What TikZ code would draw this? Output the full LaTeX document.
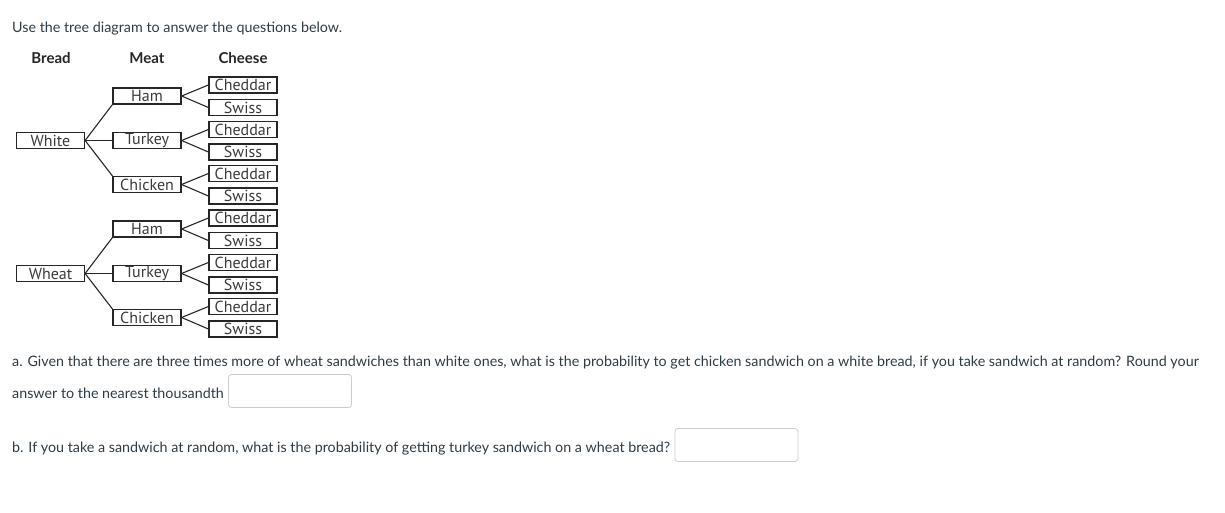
\documentclass[tikz,border=0pt]{standalone}
\usepackage{fontspec}
\setmainfont{Lato}
\newfontfamily\treefont{PT Sans}
\definecolor{txt}{HTML}{2D3B45}
\definecolor{boxtxt}{HTML}{3A3A3A}
\definecolor{inbord}{HTML}{C7CDD1}
\begin{document}
\begin{tikzpicture}[x=1pt,y=-1pt,
  qtext/.style={anchor=base west,inner sep=0pt,text=txt,font=\fontsize{14.3}{17}\selectfont},
  hdr/.style={inner sep=0pt,text=black!85,font=\fontsize{15}{17}\bfseries\selectfont},
  tbox/.style={draw=black!85,line width=1.2pt,minimum width=68pt,minimum height=16pt,inner sep=0pt,text=boxtxt,font=\treefont\fontsize{16}{17}\selectfont},
  cbox/.style={tbox},
  link/.style={draw=black!85,line width=1.1pt},
  ansbox/.style={draw=inbord,line width=0.8pt,rounded corners=3pt,minimum width=123pt,minimum height=33pt,inner sep=0pt}
]
\useasboundingbox (0,0) rectangle (1225,512);
\node[qtext] (intro) at (12,32) {Use the tree diagram to answer the questions below.};
\node[hdr] (hbread) at (51,58) {Bread};
\node[hdr] (hmeat) at (147,58) {Meat};
\node[hdr] (hcheese) at (243,58) {Cheese};
% breads
\node[tbox] (white) at (50.5,140.5) {White};
\node[tbox] (wheat) at (50.5,273.5) {Wheat};
% meats
\foreach \b/\y in {w/0,h/133}{
  \node[tbox] (\b ham) at (147,96+\y) {Ham};
  \node[tbox] (\b tur) at (147,140.5+\y) {Turkey};
  \node[tbox] (\b chi) at (147,184.5+\y) {Chicken};
}
% cheeses
\foreach \b/\y in {w/0,h/133}{
  \foreach \m/\d in {ham/0,tur/44.5,chi/88.5}{
    \node[cbox] (\b\m c) at (243,85+\y+\d) {Cheddar};
    \node[cbox] (\b\m s) at (243,107.5+\y+\d) {Swiss};
    \draw[link] (\b\m.east) -- (\b\m c.west);
    \draw[link] (\b\m.east) -- (\b\m s.west);
  }
}
\draw[link] (white.east) -- (wham.south west);
\draw[link] (white.east) -- (wtur.west);
\draw[link] (white.east) -- (wchi.north west);
\draw[link] (wheat.east) -- (hham.south west);
\draw[link] (wheat.east) -- (htur.west);
\draw[link] (wheat.east) -- (hchi.north west);
% questions
\node[qtext] (qa) at (12,366.5) {a. Given that there are three times more of wheat sandwiches than white ones, what is the probability to get chicken sandwich on a white bread, if you take sandwich at random? Round your};
\node[qtext] (qa2) at (12,398.5) {answer to the nearest thousandth};
\node[ansbox] (ansa) at (290,391) {};
\node[qtext] (qb) at (12,452.5) {b. If you take a sandwich at random, what is the probability of getting turkey sandwich on a wheat bread?};
\node[ansbox] (ansb) at (736.5,445) {};
\end{tikzpicture}
\end{document}
